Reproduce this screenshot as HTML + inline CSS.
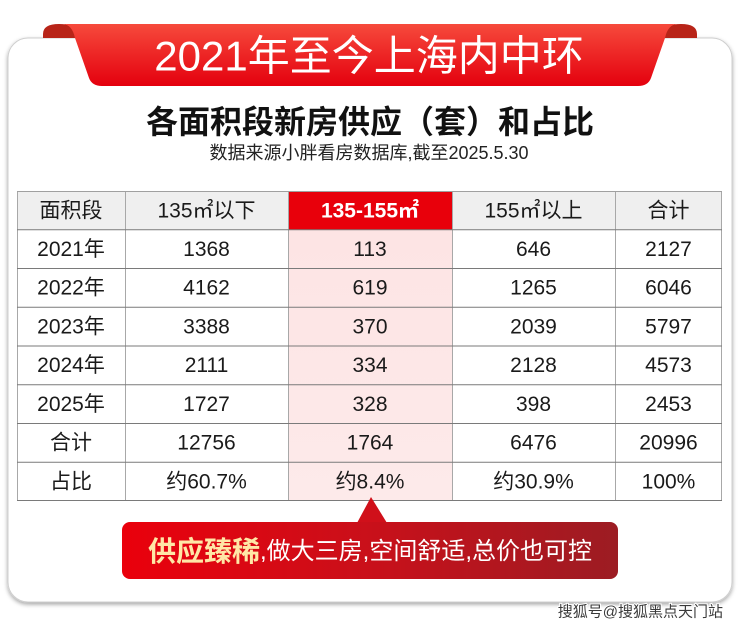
<!DOCTYPE html>
<html><head><meta charset="utf-8"><style>
html,body{margin:0;padding:0;background:#fff;}
svg{display:block;}
text{font-family:"Liberation Sans","Noto Sans CJK SC",sans-serif;}
</style></head><body>
<svg width="740" height="629" viewBox="0 0 740 629" xmlns="http://www.w3.org/2000/svg">
<defs>
<linearGradient id="bn" x1="0" y1="0" x2="0" y2="1">
<stop offset="0" stop-color="#f64a3c"/><stop offset="1" stop-color="#e4000e"/>
</linearGradient>
<linearGradient id="co" gradientUnits="userSpaceOnUse" x1="122" y1="0" x2="618" y2="0">
<stop offset="0" stop-color="#ea000c"/><stop offset="0.5" stop-color="#c9101a"/><stop offset="1" stop-color="#9c1c23"/>
</linearGradient>
<linearGradient id="pk" x1="0" y1="0" x2="0" y2="1">
<stop offset="0" stop-color="#fde4e4"/><stop offset="1" stop-color="#fdeaea"/>
</linearGradient>
<filter id="sh" x="-5%" y="-5%" width="110%" height="115%">
<feDropShadow dx="0" dy="2" stdDeviation="2" flood-color="#000" flood-opacity="0.35"/>
</filter>
</defs>
<!-- card -->
<rect x="8" y="38" width="724" height="564" rx="20" ry="20" fill="#fff" stroke="#cfcfcf" stroke-width="1" filter="url(#sh)"/>
<!-- banner curls -->
<path d="M43 38 L43 34 Q43 24 59 24 Q75 24 75 34 L75 38 Z" fill="#b82418"/>
<path d="M665 38 L665 34 Q665 24 681 24 Q697 24 697 34 L697 38 Z" fill="#b82418"/>
<!-- banner -->
<path d="M62 24 L678 24 Q668 24 665 38 L651 78 Q648 86 638 86 L102 86 Q92 86 89 78 L75 38 Q72 24 62 24 Z" fill="url(#bn)"/>
<text x="369" y="56" text-anchor="middle" dominant-baseline="central" font-size="42" fill="#fff">2021年至今上海内中环</text>
<!-- title -->
<text x="370" y="122" text-anchor="middle" dominant-baseline="central" font-size="32" font-weight="700" fill="#111">各面积段新房供应（套）和占比</text>
<text x="369" y="153" text-anchor="middle" dominant-baseline="central" font-size="18" fill="#222">数据来源小胖看房数据库,截至2025.5.30</text>
<!-- table backgrounds -->
<rect x="17" y="191" width="705" height="38.75" fill="#efefef"/>
<rect x="288" y="191" width="164" height="38.75" fill="#e8000b"/>
<rect x="288" y="229.75" width="164" height="271.25" fill="url(#pk)"/>
<!-- vertical lines -->
<g stroke="#a8a8a8" stroke-width="1">
<line x1="17.5" y1="191" x2="17.5" y2="501"/>
<line x1="125.5" y1="191" x2="125.5" y2="501"/>
<line x1="288.5" y1="191" x2="288.5" y2="501"/>
<line x1="452.5" y1="191" x2="452.5" y2="501"/>
<line x1="615.5" y1="191" x2="615.5" y2="501"/>
<line x1="721.5" y1="191" x2="721.5" y2="501"/>
</g>
<!-- horizontal lines -->
<g stroke="#7a7a7a" stroke-width="1">
<line x1="17" y1="191.5" x2="722" y2="191.5" stroke="#a0a0a0"/>
<line x1="17" y1="229.75" x2="722" y2="229.75"/>
<line x1="17" y1="268.5" x2="722" y2="268.5"/>
<line x1="17" y1="307.25" x2="722" y2="307.25"/>
<line x1="17" y1="346" x2="722" y2="346"/>
<line x1="17" y1="384.75" x2="722" y2="384.75"/>
<line x1="17" y1="423.5" x2="722" y2="423.5"/>
<line x1="17" y1="462.25" x2="722" y2="462.25"/>
<line x1="17" y1="500.5" x2="722" y2="500.5"/>
</g>
<!-- table text -->
<g font-size="21" fill="#1a1a1a" text-anchor="middle" dominant-baseline="central">
<text x="71" y="211">面积段</text>
<text x="206.5" y="211">135㎡以下</text>
<text x="370" y="211" fill="#fff" font-weight="700">135-155㎡</text>
<text x="533.5" y="211">155㎡以上</text>
<text x="668.5" y="211">合计</text>

<text x="71" y="249.5">2021年</text><text x="206.5" y="249.5">1368</text><text x="370" y="249.5">113</text><text x="533.5" y="249.5">646</text><text x="668.5" y="249.5">2127</text>
<text x="71" y="288.2">2022年</text><text x="206.5" y="288.2">4162</text><text x="370" y="288.2">619</text><text x="533.5" y="288.2">1265</text><text x="668.5" y="288.2">6046</text>
<text x="71" y="327">2023年</text><text x="206.5" y="327">3388</text><text x="370" y="327">370</text><text x="533.5" y="327">2039</text><text x="668.5" y="327">5797</text>
<text x="71" y="365.7">2024年</text><text x="206.5" y="365.7">2111</text><text x="370" y="365.7">334</text><text x="533.5" y="365.7">2128</text><text x="668.5" y="365.7">4573</text>
<text x="71" y="404.5">2025年</text><text x="206.5" y="404.5">1727</text><text x="370" y="404.5">328</text><text x="533.5" y="404.5">398</text><text x="668.5" y="404.5">2453</text>
<text x="71" y="443.2">合计</text><text x="206.5" y="443.2">12756</text><text x="370" y="443.2">1764</text><text x="533.5" y="443.2">6476</text><text x="668.5" y="443.2">20996</text>
<text x="71" y="482">占比</text><text x="206.5" y="482">约60.7%</text><text x="370" y="482">约8.4%</text><text x="533.5" y="482">约30.9%</text><text x="668.5" y="482">100%</text>
</g>
<!-- callout -->
<path d="M371 497 L387 523 L357 523 Z" fill="#d0101a"/>
<rect x="122" y="522" width="496" height="57" rx="8" ry="8" fill="url(#co)"/>
<text x="148" y="551" dominant-baseline="central" fill="#fff"><tspan font-size="28" font-weight="700" fill="#ffe7a6">供应臻稀</tspan><tspan font-size="24">,做大三房,空间舒适,总价也可控</tspan></text>
<!-- watermark -->
<text x="723" y="612" text-anchor="end" dominant-baseline="central" font-size="15" fill="#3a3a3a" stroke="#fff" stroke-width="2" paint-order="stroke">搜狐号@搜狐黑点天门站</text>
</svg>
</body></html>
